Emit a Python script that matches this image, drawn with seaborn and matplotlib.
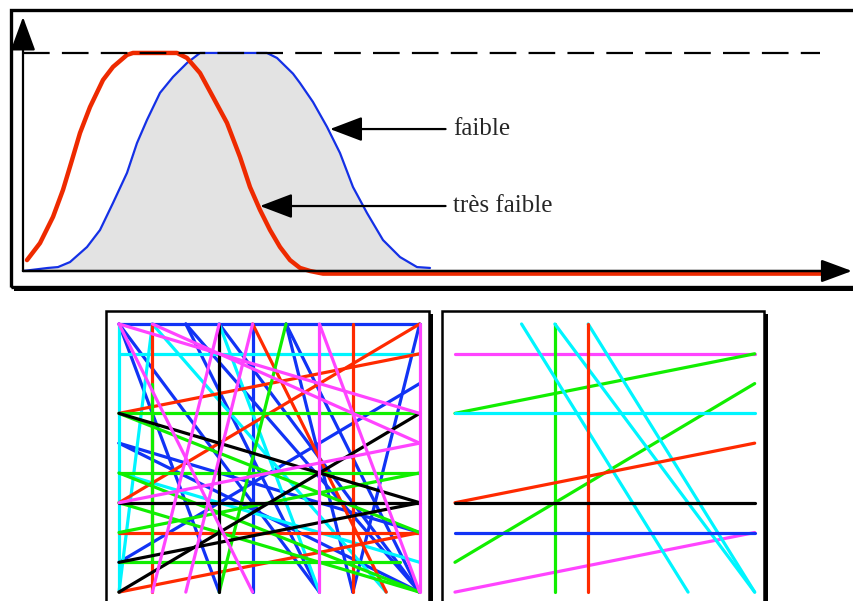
import matplotlib
matplotlib.use('Agg')
import matplotlib.pyplot as plt
from matplotlib.patches import Rectangle
import pandas as pd
import seaborn as sns

sns.set_style('white')
plt.rcParams['font.family'] = ['Liberation Serif', 'DejaVu Serif']

# courbe "très faible" (rouge)
red_x = [4, 17, 30, 40, 49, 57, 67, 80, 90, 104, 110, 154, 164, 177, 190, 204, 217,
         227, 237, 247, 257, 267, 277, 287, 300, 805]
red_y = [0.05, 0.128, 0.248, 0.372, 0.509, 0.633, 0.752, 0.876, 0.936, 0.991, 1.0, 1.0,
         0.977, 0.908, 0.798, 0.679, 0.523, 0.385, 0.28, 0.188, 0.11, 0.05, 0.014, 0.0,
         -0.012, -0.012]

# courbe "faible" (bleue)
blue_x = [0, 25, 35, 47, 64, 77, 90, 104, 114, 124, 137, 150, 164, 177, 244, 254, 270,
          277, 290, 304, 317, 330, 344, 360, 377, 394, 407]
blue_y = [0.0, 0.014, 0.018, 0.041, 0.11, 0.188, 0.312, 0.45, 0.587, 0.693, 0.817, 0.89,
          0.954, 1.0, 1.0, 0.977, 0.905, 0.862, 0.775, 0.661, 0.541, 0.385, 0.266, 0.142,
          0.064, 0.018, 0.014]

plateau = 1.0
labels = ['faible', 'très faible']

# segments (couleur, x0, y0, x1, y1) sur une grille 9 x 9, y vers le bas
left_segments = [
    ('b', 0, 0, 9, 0), ('b', 4, 0, 4, 9), ('b', 0, 0, 3, 9), ('b', 0, 0, 6, 9),
    ('b', 2, 0, 6, 9), ('b', 2, 0, 9, 9), ('b', 3, 0, 9, 9), ('b', 5, 0, 7, 9),
    ('b', 5, 0, 9, 9), ('b', 7, 9, 9, 0), ('b', 0, 4, 9, 7), ('b', 0, 4, 9, 9),
    ('b', 0, 8, 9, 2),
    ('c', 0, 0, 0, 9), ('c', 0, 1, 9, 1), ('c', 1, 0, 0, 9), ('c', 1, 0, 8, 9),
    ('c', 3, 0, 6, 9), ('c', 0, 5, 9, 8),
    ('r', 1, 0, 1, 9), ('r', 7, 0, 7, 9), ('r', 0, 7, 9, 7), ('r', 0, 3, 9, 1),
    ('r', 0, 6, 9, 0), ('r', 0, 9, 9, 7), ('r', 4, 0, 8, 9),
    ('g', 1, 2, 1, 8), ('g', 0, 3, 9, 3), ('g', 0, 5, 9, 5), ('g', 0, 8, 8.4, 8),
    ('g', 0, 3, 9, 7), ('g', 0, 5, 9, 9), ('g', 0, 6, 9, 9), ('g', 0, 7, 9, 5),
    ('g', 3, 9, 5, 0),
    ('k', 3, 0, 3, 9), ('k', 0, 6, 9, 6), ('k', 0, 3, 9, 6), ('k', 0, 9, 9, 3),
    ('k', 0, 8, 9, 6),
    ('m', 6, 0, 6, 9), ('m', 9, 0, 9, 9), ('m', 0, 0, 9, 3), ('m', 1, 0, 9, 4),
    ('m', 0, 0, 4, 9), ('m', 1, 9, 3, 0), ('m', 2, 9, 4, 0), ('m', 0, 6, 9, 4),
    ('m', 6, 0, 9, 9),
]
right_segments = [
    ('m', 0, 1, 9, 1), ('m', 0, 9, 9, 7),
    ('g', 0, 3, 9, 1), ('g', 0, 8, 9, 2),
    ('c', 0, 3, 9, 3), ('c', 2, 0, 7, 9), ('c', 3, 0, 9, 9), ('c', 4, 0, 9, 9),
    ('r', 0, 6, 9, 4), ('r', 4, 0, 4, 9),
    ('k', 0, 6, 9, 6),
    ('b', 0, 7, 9, 7),
    ('g', 3, 0, 3, 9),
]

palette = {'b': '#1133f5', 'c': '#00f5ff', 'r': '#ff2a00', 'g': '#11ee00',
           'k': '#000000', 'm': '#ff44ff'}

W, H = 854, 601
fig = plt.figure(figsize=(W / 100, H / 100), dpi=100)


def px_axes(x0, y0, x1, y1):
    ax = fig.add_axes([x0 / W, 1 - y1 / H, (x1 - x0) / W, (y1 - y0) / H])
    ax.set_axis_off()
    return ax


def seg_frame(segments):
    rows = []
    for k, (c, x0, y0, x1, y1) in enumerate(segments):
        rows.append({'seg': k, 'color': c, 'x': x0, 'y': y0})
        rows.append({'seg': k, 'color': c, 'x': x1, 'y': y1})
    return pd.DataFrame(rows)


# --- panneau du haut ---
ax = px_axes(11, 10, 856, 287)
ax.set_xlim(-12, 833)
ax.set_ylim(-0.0734, 1.197)
ax.fill_between(blue_x, blue_y, 0, color='#e3e3e3', lw=0)
sns.lineplot(x=blue_x, y=blue_y, sort=False, estimator=None, color='#1430e6', lw=1.6, ax=ax)
sns.lineplot(x=red_x, y=red_y, sort=False, estimator=None, color='#ee2a00', lw=3.2, ax=ax)
ax.plot([0, 797], [plateau, plateau], color='black', lw=1.6, dashes=(12, 5.5))
ax.annotate('', xy=(0, 1.165), xytext=(0, 0),
            arrowprops=dict(arrowstyle='-|>,head_length=1.5,head_width=0.55', lw=1.6,
                            color='black', shrinkA=0, shrinkB=0, mutation_scale=14),
            zorder=5)
ax.annotate('', xy=(829, 0), xytext=(0, 0),
            arrowprops=dict(arrowstyle='-|>,head_length=1.35,head_width=0.5', lw=1.8,
                            color='black', shrinkA=0, shrinkB=0, mutation_scale=14),
            zorder=5)
ax.annotate(labels[0], xy=(307, 0.651), xytext=(430, 0.651), va='center', ha='left',
            fontsize=18,
            arrowprops=dict(arrowstyle='-|>,head_length=1.0,head_width=0.38', lw=1.6,
                            color='black', shrinkA=3, shrinkB=0, mutation_scale=20))
ax.annotate(labels[1], xy=(237, 0.298), xytext=(430, 0.298), va='center', ha='left',
            fontsize=18,
            arrowprops=dict(arrowstyle='-|>,head_length=1.0,head_width=0.38', lw=1.6,
                            color='black', shrinkA=3, shrinkB=0, mutation_scale=20))
ax.add_patch(Rectangle((0, 0), 1, 1, transform=ax.transAxes, fill=False, lw=2.4,
                       ec='black', clip_on=False))
ax.add_patch(Rectangle((0.004, -0.014), 1, 0.014, transform=ax.transAxes, color='black',
                       lw=0, clip_on=False))

# --- panneaux du bas ---
for (x0, x1), segments in [((106, 429), left_segments), ((442, 764), right_segments)]:
    ax = px_axes(x0, 311, x1, 621)
    ax.set_xlim(-0.389, 9.28)
    ax.set_ylim(9.97, -0.436)
    sns.lineplot(data=seg_frame(segments), x='x', y='y', hue='color', units='seg',
                 estimator=None, sort=False, palette=palette, legend=False, lw=2.3, ax=ax)
    ax.add_patch(Rectangle((0, 0), 1, 1, transform=ax.transAxes, fill=False, lw=1.8,
                           ec='black', clip_on=False))
    ax.add_patch(Rectangle((1, 0), 0.013, 0.99, transform=ax.transAxes, color='black',
                           lw=0, clip_on=False))

fig.savefig('out.png', dpi=100)
plt.close(fig)
